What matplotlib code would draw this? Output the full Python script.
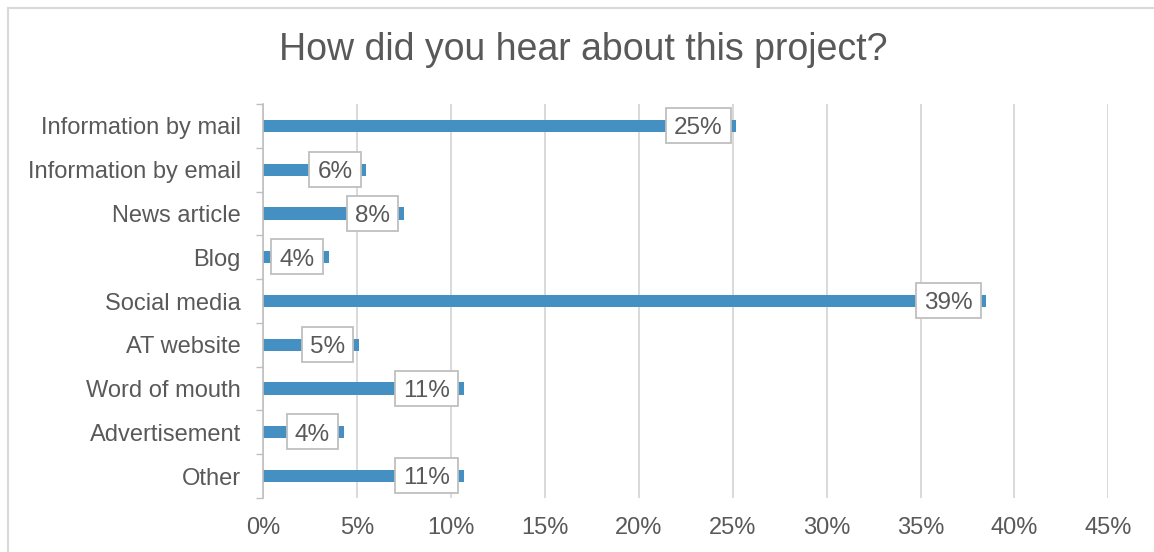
import matplotlib.pyplot as plt
from matplotlib.lines import Line2D
from matplotlib.path import Path
from matplotlib.ticker import FixedLocator, FuncFormatter

sources = ["Information by mail", "Information by email", "News article", "Blog",
           "Social media", "AT website", "Word of mouth", "Advertisement", "Other"]
share = [25.2, 5.5, 7.5, 3.5, 38.5, 5.1, 10.7, 4.3, 10.7]
xticks = [0, 5, 10, 15, 20, 25, 30, 35, 40, 45]

W, H = 1154, 552
bar_color = "#4590C3"
text_color = "#595959"
grid_color = "#D9D9D9"
axis_color = "#BFBFBF"

plt.rcParams["font.family"] = ["Liberation Sans", "DejaVu Sans"]


def label_box(x0, y0, width, height, mutation_size):
    # wide, short box centred on the digits rather than on the text line
    em = mutation_size
    px = 0.34 * em
    cy = y0 + 0.568 * em
    hh = 0.72 * em
    return Path([(x0 - px, cy - hh), (x0 + width + px, cy - hh),
                 (x0 + width + px, cy + hh), (x0 - px, cy + hh),
                 (x0 - px, cy - hh)], closed=True)


fig = plt.figure(figsize=(W / 100, H / 100), dpi=100)
ax = fig.add_axes([263 / W, 1 - 498 / H, (1106.7 - 261.3) / W, (498 - 104) / H])

ypos = list(range(len(sources)))
ax.barh(ypos, share, height=0.28, color=bar_color, zorder=2)
ax.set_ylim(len(sources) - 0.5, -0.5)
ax.set_xlim(0, 45)

# data labels in boxes, right edge just inside the bar end
for y, v in zip(ypos, share):
    ax.annotate("%d%%" % int(v + 0.5), xy=(v, y), xytext=(-10, -1.7),
                textcoords="offset points", ha="right", va="center",
                fontsize=17.5, color=text_color, zorder=4,
                bbox=dict(boxstyle=label_box, fc="white", ec=axis_color, lw=1.3))

ax.xaxis.set_major_locator(FixedLocator(xticks))
ax.xaxis.set_major_formatter(FuncFormatter(lambda x, p: "%d%%" % x))
ax.tick_params(axis="x", length=0, pad=14, labelsize=17, labelcolor=text_color)
ax.grid(axis="x", color=grid_color, lw=1.4, zorder=0)

ax.set_yticks(ypos)
ax.set_yticklabels(sources)
ax.tick_params(axis="y", which="major", length=0, pad=16, labelsize=17,
               labelcolor=text_color)
ax.yaxis.set_minor_locator(FixedLocator([i - 0.5 for i in range(len(sources) + 1)]))
ax.tick_params(axis="y", which="minor", length=5, width=1, color=axis_color)

for side in ["top", "right", "bottom"]:
    ax.spines[side].set_visible(False)
ax.spines["left"].set_color(axis_color)
ax.spines["left"].set_linewidth(1.2)
ax.set_axisbelow(True)

fig.text(0.505, 1 - 50 / H, "How did you hear about this project?",
         ha="center", va="center", fontsize=27, color=text_color)

# chart area frame (only top and left edges fall inside the image)
fig.add_artist(Line2D([7.5 / W, 7.5 / W], [0, 1 - 7.5 / H], transform=fig.transFigure,
                      color=grid_color, lw=1.5))
fig.add_artist(Line2D([7.5 / W, 1], [1 - 7.5 / H, 1 - 7.5 / H], transform=fig.transFigure,
                      color=grid_color, lw=1.5))

fig.savefig("out.png", dpi=100)
